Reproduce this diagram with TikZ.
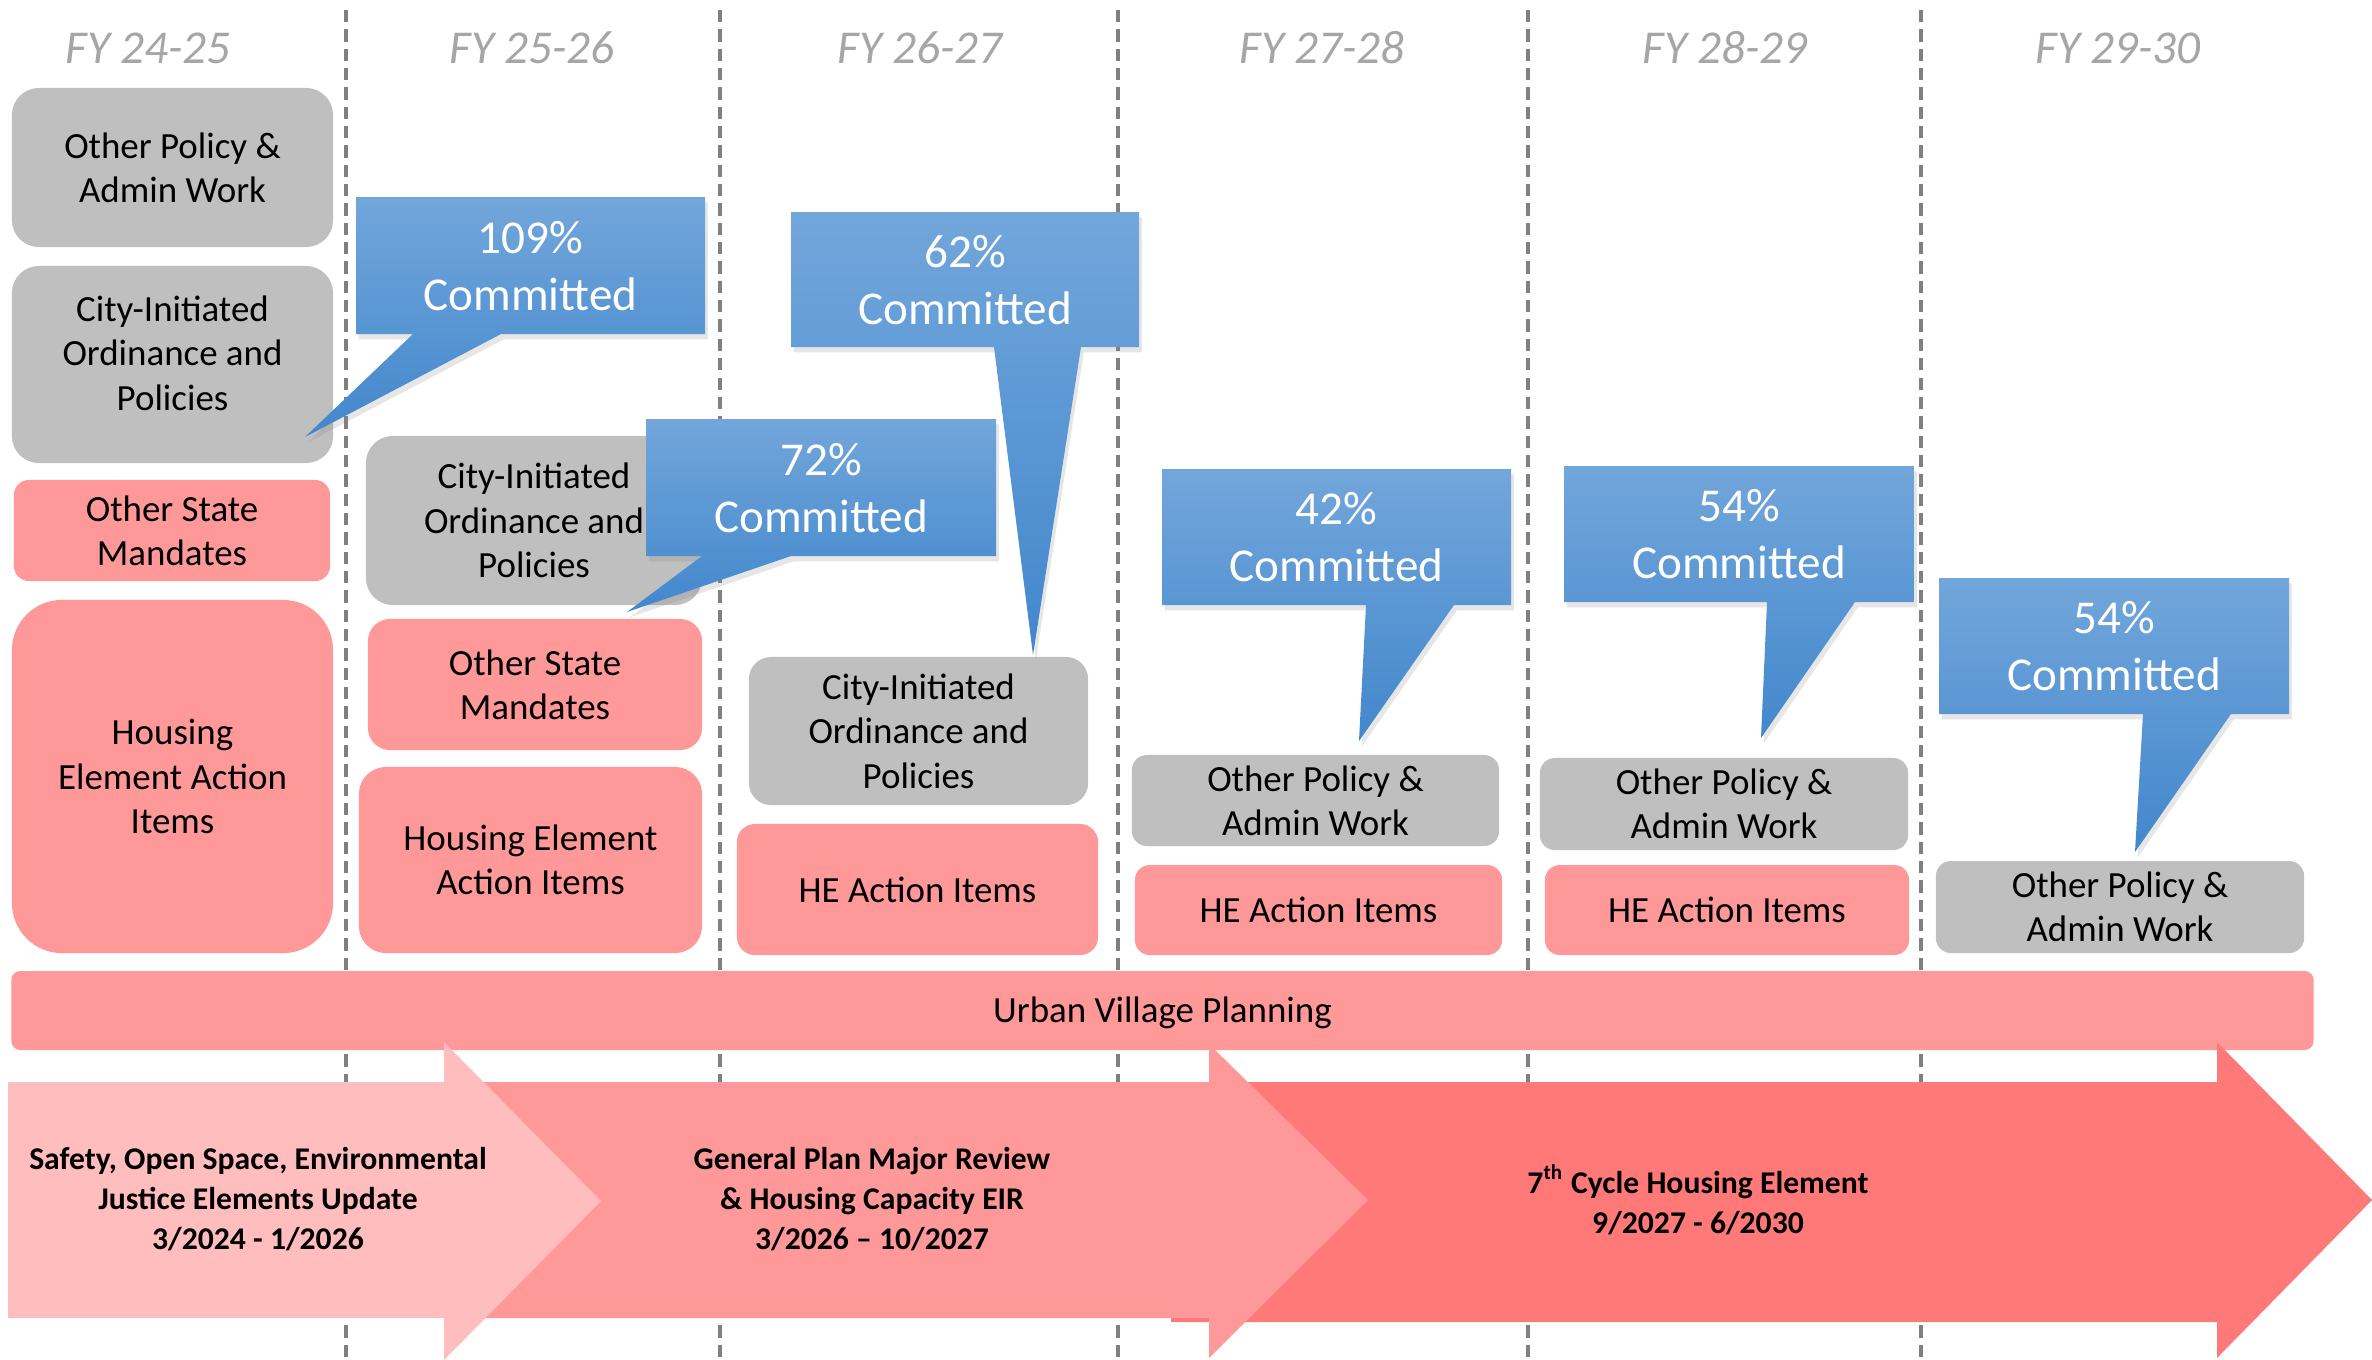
\documentclass[tikz,border=0pt]{standalone}
\usepackage{fontspec}
\setmainfont{Carlito}
\usetikzlibrary{shadows}

\definecolor{boxgray}{RGB}{191,191,191}
\definecolor{boxpink}{RGB}{255,153,153}
\definecolor{arrowlight}{RGB}{255,189,189}
\definecolor{arrowdark}{RGB}{255,121,121}
\definecolor{bubbletop}{RGB}{114,166,219}
\definecolor{bubblebottom}{RGB}{66,135,204}
\definecolor{yeargray}{RGB}{166,166,166}

\begin{document}
\begin{tikzpicture}[x=0.01cm, y=-0.01cm,
  year/.style={text=yeargray, font=\fontsize{13.4}{16}\selectfont\itshape},
  task/.style={align=center, inner sep=0pt, font=\fontsize{10.5}{12.6}\selectfont},
  graytask/.style={task, fill=boxgray, rounded corners=2.7mm},
  pinktask/.style={task, fill=boxpink, rounded corners=2.7mm},
  bubble/.style={top color=bubbletop, bottom color=bubblebottom,
    drop shadow={shadow xshift=0.8pt, shadow yshift=-1.5pt, opacity=0.2}},
  bubbletext/.style={text=white, align=center, font=\fontsize{13.4}{16.3}\selectfont},
  phasetext/.style={align=center, font=\fontsize{9}{11.4}\selectfont\bfseries}]
  \clip (0,0) rectangle (2372,1359);
  \useasboundingbox (0,0) rectangle (2372,1359);

  \foreach \x in {346,720,1118,1528,1921}
    \draw[black!50, line width=0.9pt, dash pattern=on 3.5pt off 2pt] (\x,10) -- (\x,1359);

  \node[year] (fy1) at (148,48) {FY 24-25};
  \node[year] (fy2) at (532,48) {FY 25-26};
  \node[year] (fy3) at (920,48) {FY 26-27};
  \node[year] (fy4) at (1322,48) {FY 27-28};
  \node[year] (fy5) at (1725,48) {FY 28-29};
  \node[year] (fy6) at (2118,48) {FY 29-30};

  % FY 24-25
  \node[graytask, minimum width=3.21cm, minimum height=1.59cm] (admin1) at (172.5,167.5) {Other Policy \&\\Admin Work};
  \node[graytask, minimum width=3.21cm, minimum height=1.97cm] (city1) at (172.5,364.5) {};
  \node[task] (city1text) at (172.5,353) {City-Initiated\\Ordinance and\\Policies};
  \node[pinktask, rounded corners=1.5mm, minimum width=3.16cm, minimum height=1.01cm] (state1) at (172,530.5) {Other State\\Mandates};
  \node[pinktask, rounded corners=5mm, minimum width=3.21cm, minimum height=3.53cm] (he1) at (172.5,776.5) {Housing\\Element Action\\Items};

  % FY 25-26
  \node[graytask, minimum width=3.36cm, minimum height=1.69cm] (city2) at (534,520.5) {City-Initiated\\Ordinance and\\Policies};
  \node[pinktask, rounded corners=2.2mm, minimum width=3.34cm, minimum height=1.31cm] (state2) at (535,684.5) {Other State\\Mandates};
  \node[pinktask, minimum width=3.43cm, minimum height=1.86cm] (he2) at (530.5,860) {Housing Element\\Action Items};

  % FY 26-27
  \node[graytask, rounded corners=2.2mm, minimum width=3.39cm, minimum height=1.48cm] (city3) at (918.5,731) {City-Initiated\\Ordinance and\\Policies};
  \node[pinktask, rounded corners=1.8mm, minimum width=3.61cm, minimum height=1.31cm] (he3) at (917.5,889.5) {HE Action Items};

  % FY 27-28 to FY 29-30
  \node[graytask, rounded corners=1.5mm, minimum width=3.67cm, minimum height=0.91cm] (admin4) at (1315.5,800.5) {Other Policy \&\\Admin Work};
  \node[pinktask, rounded corners=1.5mm, minimum width=3.67cm, minimum height=0.90cm] (he4) at (1318.5,910) {HE Action Items};
  \node[graytask, rounded corners=1.5mm, minimum width=3.68cm, minimum height=0.92cm] (admin5) at (1724,804) {Other Policy \&\\Admin Work};
  \node[pinktask, rounded corners=1.5mm, minimum width=3.64cm, minimum height=0.90cm] (he5) at (1727,910) {HE Action Items};
  \node[graytask, rounded corners=1.5mm, minimum width=3.68cm, minimum height=0.92cm] (admin6) at (2120,907) {Other Policy \&\\Admin Work};

  % committed callouts
  \coordinate (tip1) at (305,437);
  \shade[bubble] (356,197) -- (705,197) -- (705,334) -- (501,334) -- (tip1) -- (413,334) -- (356,334) -- cycle;
  \node[bubbletext] (pct1) at (530.5,266) {109\%\\Committed};

  \coordinate (tip2) at (627,612);
  \shade[bubble] (646,419) -- (996,419) -- (996,556) -- (791,556) -- (tip2) -- (702,556) -- (646,556) -- cycle;
  \node[bubbletext] (pct2) at (821,488) {72\%\\Committed};

  \coordinate (tip3) at (1033,655);
  \shade[bubble] (791,212) -- (1139,212) -- (1139,347) -- (1081,347) -- (tip3) -- (994,347) -- (791,347) -- cycle;
  \node[bubbletext] (pct3) at (965,280) {62\%\\Committed};

  \coordinate (tip4) at (1359,741);
  \shade[bubble] (1162,469) -- (1511,469) -- (1511,605) -- (1454,605) -- (tip4) -- (1366,605) -- (1162,605) -- cycle;
  \node[bubbletext] (pct4) at (1336.5,537) {42\%\\Committed};

  \coordinate (tip5) at (1761,738);
  \shade[bubble] (1564,466) -- (1914,466) -- (1914,602) -- (1855,602) -- (tip5) -- (1767,602) -- (1564,602) -- cycle;
  \node[bubbletext] (pct5) at (1739,534) {54\%\\Committed};

  \coordinate (tip6) at (2135,852);
  \shade[bubble] (1939,578) -- (2289,578) -- (2289,714) -- (2231,714) -- (tip6) -- (2143,714) -- (1939,714) -- cycle;
  \node[bubbletext] (pct6) at (2114,646) {54\%\\Committed};

  \node[task, fill=boxpink, rounded corners=0.9mm, minimum width=23.01cm, minimum height=0.79cm] (uvp) at (1162.5,1010.5) {};
  \node[task] (uvptext) at (1162.5,1012.5) {Urban Village Planning};

  % plan phases
  \fill[arrowdark] (1171,1082) -- (2217,1082) -- (2217,1042) -- (2372,1200) -- (2217,1358) -- (2217,1322) -- (1171,1322) -- cycle;
  \fill[boxpink] (460,1082) -- (1209,1082) -- (1209,1044) -- (1368,1200) -- (1209,1358) -- (1209,1318) -- (460,1318) -- cycle;
  \fill[arrowlight] (8,1082) -- (444,1082) -- (444,1042) -- (601,1201) -- (444,1360) -- (444,1318) -- (8,1318) -- cycle;
  \node[phasetext] (phase1) at (258,1199) {Safety, Open Space, Environmental\\Justice Elements Update\\3/2024 - 1/2026};
  \node[phasetext] (phase2) at (872,1199) {General Plan Major Review\\\& Housing Capacity EIR\\3/2026 -- 10/2027};
  \node[phasetext] (phase3) at (1698,1200) {7\textsuperscript{th} Cycle Housing Element\\9/2027 - 6/2030};
\end{tikzpicture}
\end{document}
